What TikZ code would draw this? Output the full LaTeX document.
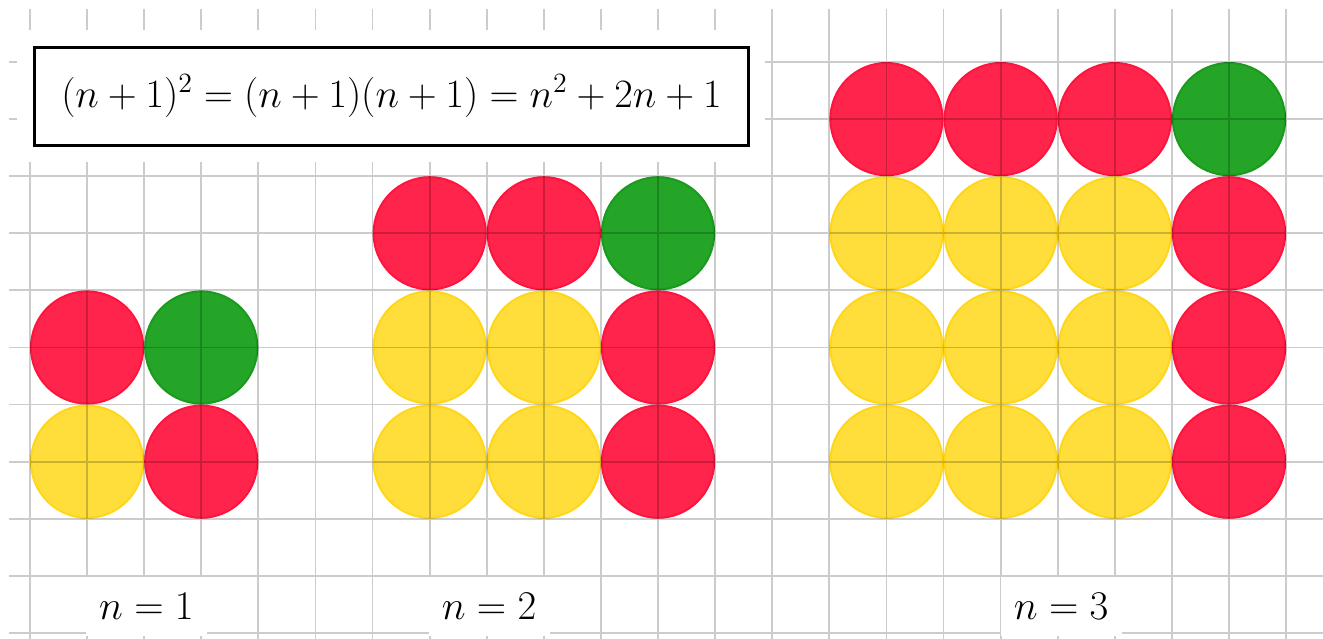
\documentclass[tikz,border=0pt]{standalone}
\usepackage{tikz}
\usepackage{amsmath,amssymb}
\definecolor{dotred}{RGB}{255,36,76}
\definecolor{dotredrim}{RGB}{255,20,62}
\definecolor{dotyel}{RGB}{255,222,60}
\definecolor{dotyelrim}{RGB}{255,214,24}
\definecolor{dotgrn}{RGB}{36,165,40}
\definecolor{dotgrnrim}{RGB}{26,155,30}

\begin{document}
\begin{tikzpicture}[font=\huge,
  dot/.style={circle,inner sep=0pt,minimum size=2cm-1pt,line width=1pt},
  rdot/.style={dot,draw=dotredrim,fill=dotred},
  ydot/.style={dot,draw=dotyelrim,fill=dotyel},
  gdot/.style={dot,draw=dotgrnrim,fill=dotgrn},
  grd/.style={black,opacity=0.2,line width=0.9pt},
  eqbox/.style={draw,line width=1.5pt,fill=white,minimum width=12.5cm,minimum height=1.72cm,
    preaction={draw=white,line width=0.6cm}},
  lab/.style={fill=white,inner sep=0pt,minimum width=2.12cm,minimum height=1.03cm}]
  \useasboundingbox (-0.525,-0.105) rectangle (22.645,11.086);
  % n = 1
  \node[rdot] (a11) at (1,5) {}; \node[gdot] (a12) at (3,5) {};
  \node[ydot] (a21) at (1,3) {}; \node[rdot] (a22) at (3,3) {};
  % n = 2
  \node[rdot] (b11) at (7,7) {}; \node[rdot] (b12) at (9,7) {}; \node[gdot] (b13) at (11,7) {};
  \node[ydot] (b21) at (7,5) {}; \node[ydot] (b22) at (9,5) {}; \node[rdot] (b23) at (11,5) {};
  \node[ydot] (b31) at (7,3) {}; \node[ydot] (b32) at (9,3) {}; \node[rdot] (b33) at (11,3) {};
  % n = 3
  \node[rdot] (c11) at (15,9) {}; \node[rdot] (c12) at (17,9) {}; \node[rdot] (c13) at (19,9) {}; \node[gdot] (c14) at (21,9) {};
  \node[ydot] (c21) at (15,7) {}; \node[ydot] (c22) at (17,7) {}; \node[ydot] (c23) at (19,7) {}; \node[rdot] (c24) at (21,7) {};
  \node[ydot] (c31) at (15,5) {}; \node[ydot] (c32) at (17,5) {}; \node[ydot] (c33) at (19,5) {}; \node[rdot] (c34) at (21,5) {};
  \node[ydot] (c41) at (15,3) {}; \node[ydot] (c42) at (17,3) {}; \node[ydot] (c43) at (19,3) {}; \node[rdot] (c44) at (21,3) {};
  \draw[grd] (-0.37,-0.2) grid (22.7,10.93);
  \node[eqbox] (eq) at (6.33,9.40) {\scalebox{0.965}{$(n+1)^2=(n+1)(n+1)=n^2+2n+1$}};
  \node[lab] (lone) at (2.04,0.46) {\scalebox{0.98}{$n=1$}};
  \node[lab] (ltwo) at (8.04,0.46) {\scalebox{0.98}{$n=2$}};
  \node[lab] (lthree) at (18.06,0.46) {\scalebox{0.98}{$n=3$}};
\end{tikzpicture}
\end{document}
